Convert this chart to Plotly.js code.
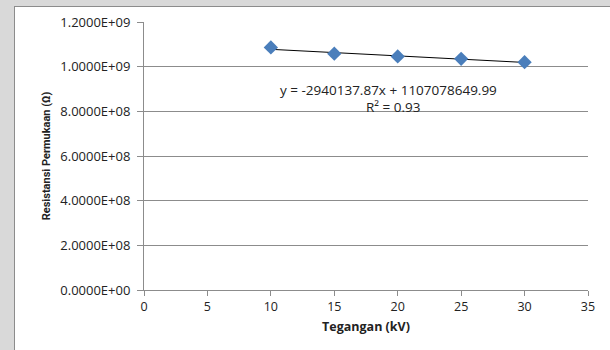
<!DOCTYPE html>
<html><head><meta charset="utf-8">
<script src="https://cdn.plot.ly/plotly-3.0.1.min.js"></script>
<style>
html,body{margin:0;padding:0;width:610px;height:350px;overflow:hidden;background:#d9d9d9;}
#frame{position:absolute;left:14px;top:6px;width:610px;height:360px;background:#fff;border:1px solid #8c8c8c;box-sizing:border-box;}
#chart{position:absolute;left:0;top:0;width:610px;height:350px;}
</style></head>
<body>
<div id="frame"></div>
<div id="chart"></div>
<script>
const voltage = [10, 15, 20, 25, 30];
const resistance = [1.086e9, 1.058e9, 1.046e9, 1.035e9, 1.020e9];
const slope = -2940137.87;
const intercept = 1107078649.99;
const equationText = "y = -2940137.87x + 1107078649.99";
const r2Text = "R\u00b2 = 0.93";
const yTickVals = [0, 2e8, 4e8, 6e8, 8e8, 1e9, 1.2e9];
const yTickText = ["0.0000E+00","2.0000E+08","4.0000E+08","6.0000E+08","8.0000E+08","1.0000E+09","1.2000E+09"];
const xTickVals = [0, 5, 10, 15, 20, 25, 30, 35];

const trendX = [voltage[0], voltage[voltage.length-1]];
const trendY = trendX.map(x => slope*x + intercept);

const font = "Open Sans, Liberation Sans, sans-serif";
const tfont = "Roboto, Open Sans, sans-serif";
const data = [
  {x: trendX, y: trendY, mode: 'lines', line: {color: '#000', width: 1}, hoverinfo: 'skip'},
  {x: voltage, y: resistance, mode: 'markers', marker: {symbol: 'diamond', size: 11, color: '#4a7ebb'}}
];
const layout = {
  width: 610, height: 350,
  paper_bgcolor: 'rgba(0,0,0,0)', plot_bgcolor: 'rgba(0,0,0,0)',
  margin: {l: 144, r: 22, t: 22, b: 60},
  showlegend: false,
  font: {family: font, size: 12, color: '#222'},
  xaxis: {
    range: [0, 35], tickvals: xTickVals, ticktext: xTickVals.map(String),
    showgrid: false, zeroline: false, showline: true, linecolor: '#8c8c8c', linewidth: 1,
    ticks: 'outside', ticklen: 5, tickcolor: '#8c8c8c',
    tickfont: {family: font, size: 12.5, color: '#222'},
    title: {text: '<b>Tegangan (kV)</b>', font: {family: font, size: 12.5, color: '#222'}, standoff: 8}
  },
  yaxis: {
    range: [0, 1.2e9], tickvals: yTickVals, ticktext: yTickText,
    showgrid: true, gridcolor: '#8c8c8c', gridwidth: 1, zeroline: false,
    showline: true, linecolor: '#8c8c8c', linewidth: 1,
    ticks: 'outside', ticklen: 6, tickcolor: '#8c8c8c', ticklabelstandoff: 4,
    tickfont: {family: font, size: 13, color: '#222'},
    title: {text: '<b>Resistansi Permukaan (\u03a9)</b>', font: {family: tfont, size: 11, color: '#222'}, standoff: 7}
  },
  annotations: [
    {xref: 'x', yref: 'y', x: 19.3, y: 8.95e8, text: equationText, showarrow: false,
     font: {family: font, size: 13.5, color: '#222'}, xanchor: 'center', yanchor: 'middle'},
    {xref: 'x', yref: 'y', x: 19.6, y: 8.2e8, text: r2Text, showarrow: false,
     font: {family: font, size: 13.5, color: '#222'}, xanchor: 'center', yanchor: 'middle'}
  ]
};
Plotly.newPlot('chart', data, layout, {displayModeBar: false, staticPlot: true});
</script>
</body></html>
